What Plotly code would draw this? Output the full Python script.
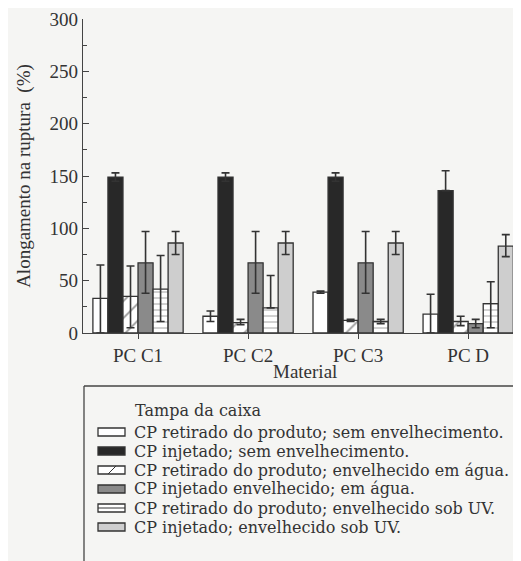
import plotly.graph_objects as go

categories = ["PC C1", "PC C2", "PC C3", "PC D"]
legend_title = "Tampa da caixa"
x_title = "Material"
y_title = "Alongamento na ruptura  (%)"
series_names = [
    "CP retirado do produto; sem envelhecimento.",
    "CP injetado; sem envelhecimento.",
    "CP retirado do produto; envelhecido em água.",
    "CP injetado envelhecido; em água.",
    "CP retirado do produto; envelhecido sob UV.",
    "CP injetado; envelhecido sob UV.",
]
values = [
    [33, 16, 39, 18],
    [149, 149, 149, 136],
    [35, 10, 12, 11],
    [67, 67, 67, 9],
    [42, 24, 11, 28],
    [86, 86, 86, 83],
]
err_plus = [
    [32, 5, 1, 19],
    [4, 4, 4, 19],
    [29, 3, 1, 5],
    [30, 30, 30, 4],
    [32, 31, 2, 21],
    [11, 11, 11, 11],
]
err_minus = [
    [33, 5, 1, 18],
    [4, 4, 4, 0],
    [30, 2, 1, 4],
    [29, 29, 29, 4],
    [31, 0, 2, 23],
    [11, 11, 11, 10],
]
fills = ["#ffffff", "#282828", "#ffffff", "#8a8a8a", "#ffffff", "#cecece"]
patterns = ["", "", "/", "", "-", ""]

# page offset (browser body margin)
OFF = 8
W, H = 521, 561
ML, MR, MT, MB = 75, 8, 11, 236
PW, PH = W - ML - MR, H - MT - MB
INK = "#333333"
BG = "#f5f5f3"
FONT = "Liberation Serif"
LEG_FONT = "DejaVu Serif"


def px(sx):
    return (sx - OFF - ML) / PW


def py(sy):
    return (H - MB - (sy - OFF)) / PH


fig = go.Figure()
for i, name in enumerate(series_names):
    fig.add_trace(go.Bar(
        x=categories, y=values[i], name=name,
        marker=dict(color=fills[i], line=dict(color=INK, width=1.3),
                    pattern=dict(shape=patterns[i], fgcolor=INK, bgcolor=fills[i],
                                 size=(12 if patterns[i] == "/" else 6), solidity=0.15)),
        error_y=dict(type="data", array=err_plus[i], arrayminus=err_minus[i],
                     color=INK, thickness=1.6, width=4),
    ))

# Manual legend (box, title, swatches, labels)
shapes = [
    dict(type="line", xref="paper", yref="paper", x0=px(84), x1=px(W + OFF), y0=py(386), y1=py(386),
         line=dict(color="#444444", width=1.6)),
    dict(type="line", xref="paper", yref="paper", x0=px(84), x1=px(84), y0=py(386), y1=py(H + OFF),
         line=dict(color="#444444", width=1.3)),
]
annotations = [
    dict(text=legend_title, xref="paper", yref="paper", x=px(133), y=py(410),
         xanchor="left", yanchor="middle", showarrow=False,
         font=dict(family=LEG_FONT, size=16, color=INK)),
    dict(text=x_title, xref="paper", yref="paper", x=px(305), y=py(371),
         xanchor="center", yanchor="middle", showarrow=False,
         font=dict(family=FONT, size=19, color=INK)),
]
row0, step = 432, 19
for i, name in enumerate(series_names):
    cy = row0 + i * step
    shapes.append(dict(type="rect", xref="paper", yref="paper",
                       x0=px(98), x1=px(125), y0=py(cy + 4), y1=py(cy - 4),
                       fillcolor=fills[i], line=dict(color=INK, width=1.3)))
    if patterns[i] == "/":
        shapes.append(dict(type="line", xref="paper", yref="paper",
                           x0=px(108), x1=px(116), y0=py(cy + 4), y1=py(cy - 4),
                           line=dict(color=INK, width=1)))
    if patterns[i] == "-":
        shapes.append(dict(type="line", xref="paper", yref="paper",
                           x0=px(98), x1=px(125), y0=py(cy), y1=py(cy),
                           line=dict(color=INK, width=1)))
    annotations.append(dict(text=name, xref="paper", yref="paper", x=px(132), y=py(cy),
                            xanchor="left", yanchor="middle", showarrow=False,
                            font=dict(family=LEG_FONT, size=16, color=INK)))

fig.update_layout(
    width=W, height=H,
    margin=dict(l=ML, r=MR, t=MT, b=MB, autoexpand=False),
    paper_bgcolor=BG, plot_bgcolor=BG,
    barmode="group", bargap=0.18, bargroupgap=0,
    font=dict(family=FONT, size=19, color=INK),
    showlegend=False,
    shapes=shapes, annotations=annotations,
    xaxis=dict(
        range=[-0.5, 3.48], showline=True, linecolor="#444444", linewidth=1.4,
        ticks="outside", ticklen=5, tickcolor="#444444", showgrid=False,
        tickfont=dict(size=19), automargin=False, ticklabeloverflow="allow",
    ),
    yaxis=dict(
        range=[0, 300], tickvals=[0, 50, 100, 150, 200, 250, 300],
        showline=True, linecolor="#444444", linewidth=1.4,
        ticks="inside", ticklen=6, tickcolor="#444444",
        minor=dict(dtick=25, ticks="inside", ticklen=4, tickcolor="#444444"),
        showgrid=False, zeroline=False,
        title=dict(text=y_title, standoff=13, font=dict(size=19)),
        tickfont=dict(size=19), automargin=False, ticklabeloverflow="allow",
    ),
)
fig.write_html("out.html")
